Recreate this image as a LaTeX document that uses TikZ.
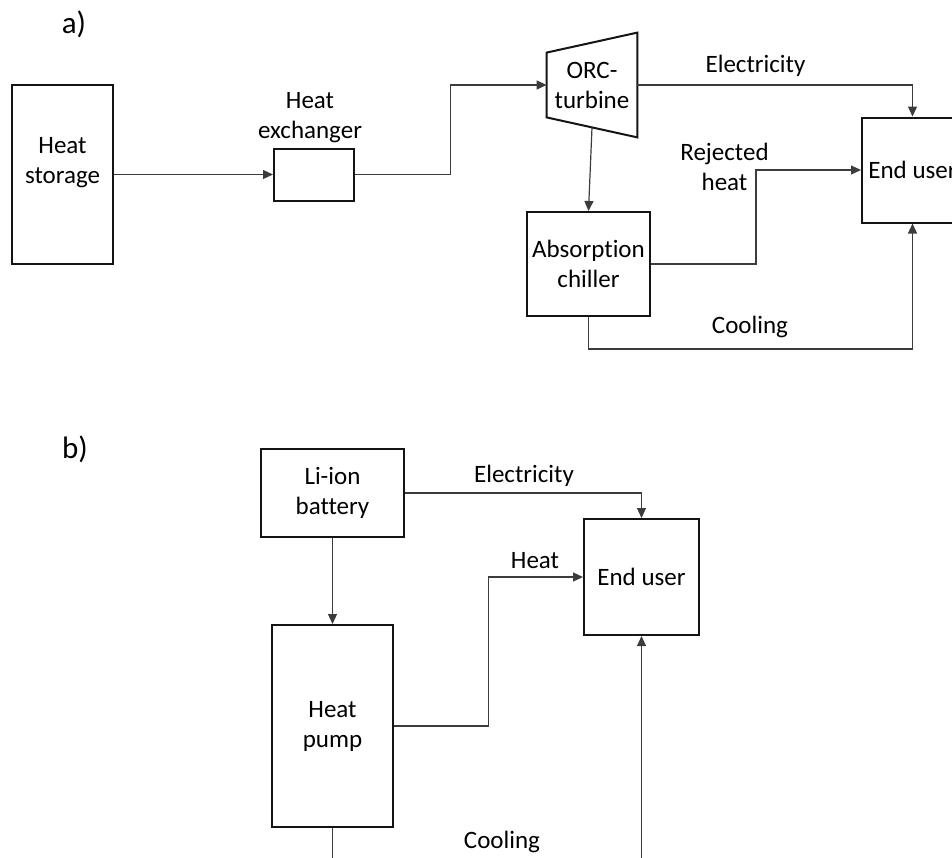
\documentclass[tikz,border=0pt]{standalone}
\usepackage{fontspec}
\setmainfont{Carlito}[RawFeature={-liga;-clig;-calt;-dlig}]
\usepackage{tikz}
\usetikzlibrary{arrows.meta,positioning,calc}
\definecolor{boxblack} {RGB}{20,20,20}
\definecolor{linegray} {RGB}{60,60,60}

\begin{document}
\begin{tikzpicture}[
  x=0.5pt, y=-0.5pt,
  font=\fontsize{12.5}{15}\selectfont,
  >={Triangle[length=5pt,width=4.5pt]},
  unit/.style={rectangle, draw=boxblack, line width=1pt,
    inner sep=0pt, align=center},
  txt/.style={inner sep=0pt, align=center},
  part/.style={inner sep=0pt, anchor=base, font=\fontsize{15.5}{18}\selectfont},
  arr/.style={->, line width=0.6pt, color=linegray},
]
\path[use as bounding box, clip] (0,0) rectangle (952,857);

% a) heat storage route
\node[part] (parta) at (74,33) {a)};

\node[unit, minimum width=50.5pt, minimum height=89.5pt] (storage) at (62.5,174.5) {};
\node[txt] (storagetext) at (62.5,163) {Heat\\storage};

\node[unit, minimum width=40pt, minimum height=26pt] (hx) at (314,174.5) {};
\node[txt, above=2pt of hx, xshift=-2pt] (hxtext) {Heat\\exchanger};

\node[txt, minimum width=45pt, minimum height=52pt] (turbine) at (592,85) {ORC-\\turbine};
\coordinate (tbl) at ($(turbine.south west)+(0,-20)$);
\coordinate (tbr) at (turbine.south east);
\draw[line width=1pt, color=boxblack]
  ($(turbine.north west)+(0,20)$) -- (turbine.north east)
  -- (tbr) -- (tbl) -- cycle;
\coordinate (tb) at ($(tbl)!0.5!(tbr)$);

\node[unit, minimum width=61.5pt, minimum height=52pt] (chiller) at (588.5,264)
  {Absorption\\chiller};

\node[unit, minimum width=50.5pt, minimum height=52.5pt] (usera) at (912.5,170)
  {End user};

% connectors a)
\draw[arr] (storage) -- (hx);
\draw[arr] (hx.east) -| ($(hx.east)!0.5!(turbine.west)$) |- (turbine.west);
\draw[arr] (turbine.east) -| (usera.north);
\draw[arr] (tb) -- (chiller.north);
\draw[arr] (chiller.east) -| ($(chiller.east)!0.5!(usera.west)$) |- (usera.west);
\coordinate (coola) at (750,349);
\draw[arr] (chiller.south) |- (coola) -| (usera.south);

% labels a)
\node[txt, anchor=base] (elecatext) at (755.5,72) {Electricity};
\node[txt, anchor=south] (rejtext) at (724.5,191) {Rejected\\heat};
\node[txt, anchor=base] (coolatext) at (750,333) {Cooling};

% b) battery route
\node[part] (partb) at (75,458) {b)};

\node[unit, minimum width=71.5pt, minimum height=44pt] (battery) at (332.5,493)
  {Li-ion\\battery};
\node[unit, minimum width=60.5pt, minimum height=101pt] (pump) at (332.5,726)
  {Heat\\pump};
\node[unit, minimum width=57.5pt, minimum height=58pt] (userb) at (641.5,577)
  {End user};

% connectors b)
\draw[arr] (battery.east) -| (userb.north);
\draw[arr] (battery) -- (pump);
\draw[arr] (pump.east) -| ($(pump.east)!0.5!(userb.west)$) |- (userb.west);
\coordinate (coolb) at (500,890);
\draw[arr] (pump.south) |- (coolb) -| (userb.south);

% labels b)
\node[txt, anchor=base] (elecbtext) at (524,482) {Electricity};
\node[txt, anchor=base] (heatbtext) at (535,568) {Heat};
\node[txt, anchor=base] (coolbtext) at (502,848) {Cooling};

\end{tikzpicture}
\end{document}
